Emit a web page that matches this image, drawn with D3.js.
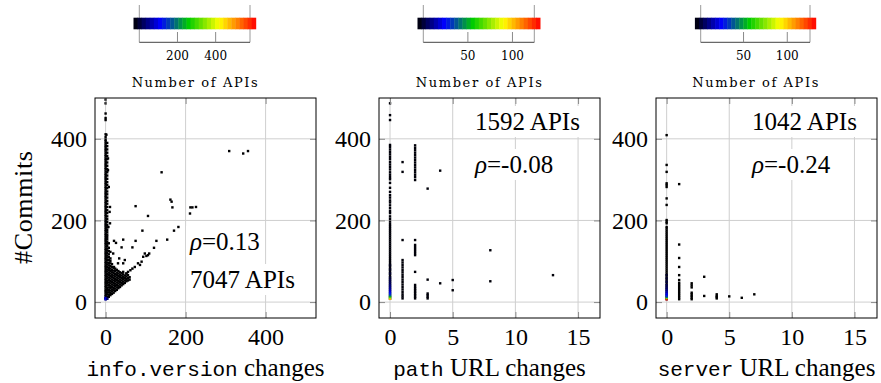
<!DOCTYPE html>
<html>
<head>
<meta charset="utf-8">
<script src="https://cdn.jsdelivr.net/npm/d3@7"></script>
<style>
  body { margin: 0; background: #fff; }
</style>
</head>
<body>
<svg id="chart" width="881" height="383"></svg>
<script>
// ---- data ----
const yTicks = [0, 200, 400];
const xTicksInfo = [0, 200, 400];
const xTicksUrl = [0, 5, 10, 15];
const cbTicksInfo = [200, 400];
const cbTicksUrl = [50, 100];
const cbRange = [[0, 580], [0, 124.5], [1, 126]];
const rhoLabels = ['0.13', '-0.08', '-0.24'];
const countLabels = ['7047 APIs', '1592 APIs', '1042 APIs'];

// info.version changes vs #commits: columns [x, [y...]]
const infoCols = [
  [0, [7,10,14,18,23,27,31,36,40,45,49,54,58,63,67,72,76,81,86,90,95,99,104,108,113,118,122,127,131,136,141,145,150,154,159,164,168,173,177,182,187,191,196,200,205,210,214,219,223,228,233,237,242,246,251,256,260,265,269,274,279,283,288,292,297,302,306,311,315,320,325,329,334,338,343,348,352,357,361,366,371,375,380,384,389,394,398,404,411,446,451,462,487,496]],
  [4, [9,13,19,24,30,35,41,47,52,58,63,69,75,80,86,92,97,103,109,114,120,126,131,137,143,148,154,160,165,171,177,183,189,196,203,210,218,225,233,241,248,256,264,271,279,287,294,302,310,318,326,334,342,350,358,366,374,382,390]],
  [8, [13,18,24,30,36,42,48,54,60,66,72,78,84,90,96,103,110,117,125,133,144]],
  [12, [17,22,28,34,40,46,52,58,64,70,76,82,88,95,101,107]],
  [16, [20,26,31,37,43,49,55,61,67,73,79,86,93]],
  [20, [23,29,35,41,47,53,59,65,71,77,84]],
  [24, [27,33,39,45,51,57,63,69,76,82]],
  [28, [30,36,42,48,54,60,66,72,79]],
  [32, [34,40,46,52,58,64,70,76]],
  [36, [37,43,49,55,61,67,73]],
  [40, [41,47,53,59,65,71]],
  [44, [44,50,56,62,68,74]],
  [48, [47,53,59,65]],
  [52, [51,57,63,70]],
  [56, [53,59,66]],
  [60, [55,61]]
];
const infoScatter = [
  [6,352],[6,323],[8,282],[11,233],[10,221],[11,193],[7,184],[2,410],
  [309,370],[344,364],[356,370],[140,318],[75,235],[165,246],[167,232],[162,251],
  [211,217],[212,232],[226,233],[217,232],[106,211],[92,175],[182,184],[171,175],
  [154,153],[127,150],[75,150],[44,153],[21,150],[26,145],[67,134],[40,134],
  [19,119],[121,133],[109,119],[106,115],[102,113],[98,119],[94,111],[90,99],
  [81,95],[86,91],[73,86],[67,82],[62,78],[56,74],[52,70],[48,103],[44,95],
  [34,107],[31,95],[12,123],[21,86]
];
const infoHot = [[0,7,130],[0,10,100],[4,8,60]];

// path URL changes vs #commits
const pathCols = [
  [0, [8,12,16,21,26,31,36,41,46,51,56,61,66,71,76,81,86,91,96,101,106,111,116,121,126,131,136,141,146,151,156,161,166,171,176,181,186,191,197,204,210,218,223,230,237,244,249,256,262,270,280,292,301,306,312,318,325,331,337,343,350,356,362,368,374,380,385,446,458,487]],
  [1, [9,14,19,25,31,37,43,49,55,61,67,73,79,85,91,97,103,152,319,343]],
  [2, [9,13,17,21,25,29,33,37,42,74,115,120,125,130,135,140,152,299,306,312,318,324,330,336,342,348,354,360,366,372,378,384]],
  [3, [9,13,17,21,55,278]],
  [4, [46,322]],
  [5, [29,54]],
  [8, [51,127]],
  [13, [66]]
];
const pathHot = [[0,8,100],[0,11,75],[0,14,50],[0,18,38],[0,22,30],[0,27,22],[0,32,17],[0,37,14],[0,42,12],[0,48,10],[0,54,8],[0,60,6],[0,70,5],[0,80,4],[0,90,3]];

// server URL changes vs #commits
const serverCols = [
  [0, [7,11,15,20,25,30,35,40,45,50,55,60,65,70,75,80,85,90,95,100,105,110,115,120,125,130,135,140,145,150,155,160,165,170,175,180,184,193,197,201,238,254,282,287,291,319,336,409]],
  [1, [7,12,17,22,27,32,37,42,47,54,66,86,108,141,289]],
  [2, [7,11,15,19,23,36,41,46]],
  [3, [15,62]],
  [4, [9,12,15,19]],
  [5, [14]],
  [6, [10.5]],
  [7, [19]]
];
const serverHot = [[0,7,126],[0,10,70],[0,13,40],[0,17,30],[0,21,25],[0,26,20],[0,31,15],[0,36,12],[0,42,10],[0,50,8],[0,58,6],[0,66,5]];

// colormap (black -> blue -> green -> yellow -> red)
const cmapPos = [0, 0.22, 0.45, 0.7, 1];
const cmapCol = ['#000000', '#0000ff', '#00cc00', '#ffff00', '#ff0000'];

// ---- layout ----
const SERIF = '"Liberation Serif", "Times New Roman", serif';
const MONO = '"Liberation Mono", "DejaVu Sans Mono", monospace';
const SMALL = '"DejaVu Serif", serif';

const panels = [
  { left: 95, right: 316, xDomain: [-26.5, 526], xTicks: xTicksInfo, cols: infoCols, extra: infoScatter, hot: infoHot,
    cbBox: [139.3, 250], cbTicks: cbTicksInfo, label: ['info.version', ' changes'],
    rho: { x: 190, y: 250 }, cnt: { x: 190, y: 288 } },
  { left: 379, right: 600, xDomain: [-0.88, 16.75], xTicks: xTicksUrl, cols: pathCols, extra: [], hot: pathHot,
    cbBox: [423.3, 534.3], cbTicks: cbTicksUrl, label: ['path', ' URL changes'],
    rho: { x: 475, y: 173 }, cnt: { x: 475, y: 130 } },
  { left: 656, right: 877, xDomain: [-0.85, 16.8], xTicks: xTicksUrl, cols: serverCols, extra: [], hot: serverHot,
    cbBox: [700.7, 810], cbTicks: cbTicksUrl, label: ['server', ' URL changes'],
    rho: { x: 752, y: 173 }, cnt: { x: 752, y: 130 } }
];
const plotTop = 98, plotBottom = 318;
const markSize = 2.4;

const svg = d3.select('#chart');

panels.forEach((p, i) => {
  const [cMin, cMax] = cbRange[i];
  const x = d3.scaleLinear().domain(p.xDomain).range([p.left, p.right]);
  const y = d3.scaleLinear().domain([-39, 500]).range([plotBottom, plotTop]);
  const color = d3.scaleLinear()
    .domain(cmapPos.map(t => cMin + t * (cMax - cMin)))
    .range(cmapCol).clamp(true);

  const g = svg.append('g');

  // grid
  g.selectAll('.gx').data(p.xTicks).enter().append('line')
    .attr('x1', d => x(d)).attr('x2', d => x(d))
    .attr('y1', plotTop).attr('y2', plotBottom)
    .attr('stroke', '#cfcfcf').attr('stroke-width', 1);
  g.selectAll('.gy').data(yTicks).enter().append('line')
    .attr('y1', d => y(d)).attr('y2', d => y(d))
    .attr('x1', p.left).attr('x2', p.right)
    .attr('stroke', '#cfcfcf').attr('stroke-width', 1);

  // points
  const pts = [];
  p.cols.forEach(([cx, ys]) => ys.forEach(v => pts.push([cx, v, 1])));
  p.extra.forEach(([a, b]) => pts.push([a, b, 1]));
  p.hot.forEach(d => pts.push(d));

  g.append('g').selectAll('rect').data(pts).enter().append('rect')
    .attr('x', d => x(d[0]) - markSize / 2)
    .attr('y', d => y(d[1]) - markSize / 2)
    .attr('width', markSize).attr('height', markSize)
    .attr('fill', d => color(d[2]));

  // axes
  const styleAxis = sel => {
    sel.select('.domain').remove();
    sel.selectAll('.tick line').attr('stroke', '#8a8a8a');
    sel.attr('font-family', SERIF).attr('font-size', 24);
    sel.selectAll('text').attr('fill', '#000');
  };
  g.append('g').attr('transform', `translate(0,${plotBottom})`)
    .call(d3.axisBottom(x).tickValues(p.xTicks).tickSizeInner(-6).tickSizeOuter(0).tickPadding(10))
    .call(styleAxis);
  g.append('g').attr('transform', `translate(0,${plotTop})`)
    .call(d3.axisTop(x).tickValues(p.xTicks).tickSizeInner(-6).tickSizeOuter(0).tickFormat(''))
    .call(styleAxis);
  g.append('g').attr('transform', `translate(${p.left},0)`)
    .call(d3.axisLeft(y).tickValues(yTicks).tickSizeInner(-6).tickSizeOuter(0).tickPadding(8))
    .call(styleAxis);
  g.append('g').attr('transform', `translate(${p.right},0)`)
    .call(d3.axisRight(y).tickValues(yTicks).tickSizeInner(-6).tickSizeOuter(0).tickFormat(''))
    .call(styleAxis);

  g.append('rect').attr('x', p.left).attr('y', plotTop)
    .attr('width', p.right - p.left).attr('height', plotBottom - plotTop)
    .attr('fill', 'none').attr('stroke', '#000').attr('stroke-width', 1);

  // annotations with white background
  const note = (pos, build) => {
    const ng = g.append('g');
    const t = ng.append('text').attr('x', pos.x).attr('y', pos.y)
      .attr('font-family', SERIF).attr('font-size', 25);
    build(t);
    const bb = t.node().getBBox();
    ng.insert('rect', 'text').attr('x', bb.x - 3).attr('y', bb.y - 2)
      .attr('width', bb.width + 6).attr('height', bb.height + 4).attr('fill', '#fff');
  };
  note(p.rho, t => {
    t.append('tspan').attr('font-style', 'italic').text('ρ');
    t.append('tspan').text('=' + rhoLabels[i]);
  });
  note(p.cnt, t => t.text(countLabels[i]));

  // x label
  const xl = svg.append('text').attr('x', (p.left + p.right) / 2).attr('y', 376)
    .attr('text-anchor', 'middle').attr('font-family', SERIF).attr('font-size', 25);
  xl.append('tspan').attr('font-family', MONO).attr('font-size', 21).text(p.label[0]);
  xl.append('tspan').text(p.label[1]);

  // colorbar
  const cb = d3.scaleLinear().domain([cMin, cMax]).range(p.cbBox);
  const cg = svg.append('g');
  const [b0, b1] = p.cbBox;
  cg.selectAll('.cbv').data([b0, b1]).enter().append('line')
    .attr('x1', d => d).attr('x2', d => d).attr('y1', 5).attr('y2', 42.3)
    .attr('stroke', '#9a9a9a').attr('stroke-width', 1);
  const nSteps = 30;
  const barL = b0 - 5.8, barR = b1 + 5.8, stepW = (barR - barL) / nSteps;
  cg.selectAll('.step').data(d3.range(nSteps)).enter().append('rect')
    .attr('x', k => barL + k * stepW).attr('y', 17.7)
    .attr('width', stepW + 0.4).attr('height', 11.6)
    .attr('fill', k => color(cMin + (k + 0.5) / nSteps * (cMax - cMin)));
  cg.append('line').attr('x1', b0).attr('x2', b1).attr('y1', 42.3).attr('y2', 42.3)
    .attr('stroke', '#444').attr('stroke-width', 1);
  cg.selectAll('.cbt').data(p.cbTicks).enter().append('line')
    .attr('x1', d => cb(d)).attr('x2', d => cb(d)).attr('y1', 32).attr('y2', 42.3)
    .attr('stroke', '#8a8a8a').attr('stroke-width', 1);
  cg.selectAll('.cbl').data(p.cbTicks).enter().append('text')
    .attr('x', d => cb(d)).attr('y', 60).attr('text-anchor', 'middle')
    .attr('font-family', SMALL).attr('font-size', 12)
    .text(d => d);
  cg.append('text').attr('x', (b0 + b1) / 2).attr('y', 87).attr('text-anchor', 'middle')
    .attr('font-family', SMALL).attr('font-size', 13)
    .attr('textLength', 126).attr('lengthAdjust', 'spacing')
    .text('Number of APIs');
});

// y label
svg.append('text').attr('transform', 'translate(32,207.5) rotate(-90)')
  .attr('text-anchor', 'middle').attr('font-family', SERIF).attr('font-size', 26)
  .attr('textLength', 113).attr('lengthAdjust', 'spacing')
  .text('#Commits');
</script>
</body>
</html>
